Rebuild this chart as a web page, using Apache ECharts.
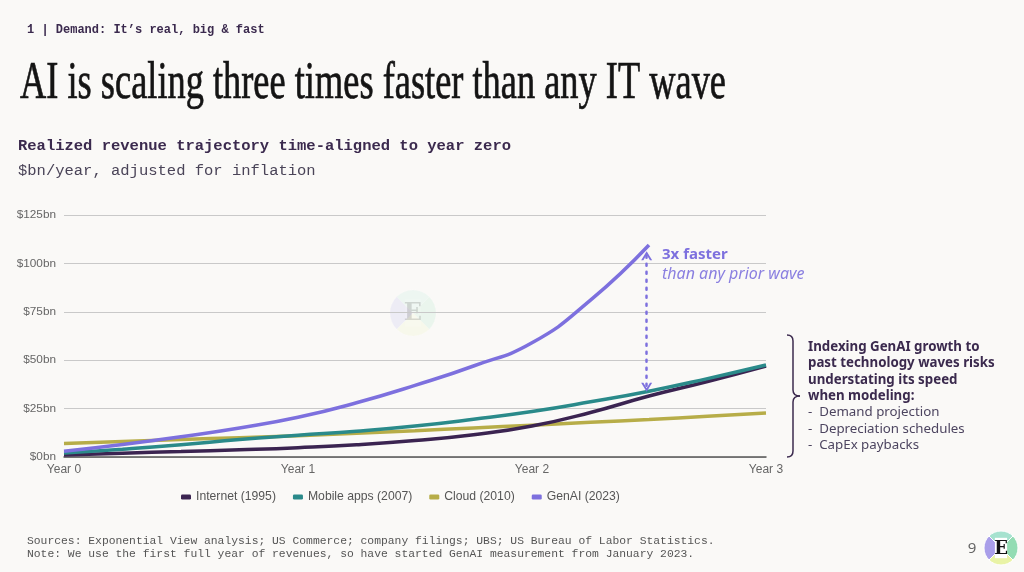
<!DOCTYPE html>
<html>
<head>
<meta charset="utf-8">
<script src="https://cdn.jsdelivr.net/npm/echarts@6/dist/echarts.min.js"></script>
<style>
  html, body { margin: 0; padding: 0; background: #faf9f7; }
  #chart { width: 1024px; height: 572px; }
</style>
</head>
<body>
<div id="chart"></div>
<script>
// time-aligned years (quarterly steps)
const years = [0, 0.25, 0.5, 0.75, 1, 1.25, 1.5, 1.75, 2, 2.25, 2.5, 2.75, 3];
const yearLabels = ['Year 0', 'Year 1', 'Year 2', 'Year 3'];

// $bn/year, adjusted for inflation
const internet = [1, 2, 2.8, 3.7, 4.8, 6.3, 8.5, 11.5, 16, 23, 31.5, 39, 47];
const mobile = [2, 4, 6.3, 9, 11.2, 13.3, 16, 19.5, 23.5, 28.5, 34, 40.5, 47.5];
const cloud = [7, 8, 9, 10, 11, 12.3, 13.6, 15, 16.4, 17.9, 19.4, 21, 22.7];
const genai = [3, 6.5, 10.5, 15, 20.5, 28, 37, 47, 59, 81, 109.5];

// the "3x" gap arrow, in data units
const gapYear = 2.49;
const gapTop = 104;
const gapBottom = 36;

const seriesNames = ['Internet (1995)', 'Mobile apps (2007)', 'Cloud (2010)', 'GenAI (2023)'];
const seriesColors = ['#3b2451', '#2a8a8a', '#b7ad48', '#7d70de'];

const ink = '#3b2a4e';
const chevron = 'path://M0,12 L6,0 L12,12 L9.6,12 L6,4.8 L2.4,12 Z';

function pairs(vals) {
    return vals.map((v, i) => [years[i], v]);
}

// squeeze the title so it fits like the condensed serif in the deck
function textWidth(text, font) {
    const c = document.createElement('canvas').getContext('2d');
    c.font = font;
    return c.measureText(text).width;
}
const titleText = 'AI is scaling three times faster than any IT wave';
const titleFont = '52px "Liberation Serif"';
const titleScale = 706 / textWidth(titleText, titleFont);

function logo(cx, cy, r, opacity) {
    const quads = [
        { s: Math.PI * 0.75, e: Math.PI * 1.25, c: '#a99ee9' },
        { s: Math.PI * 1.25, e: Math.PI * 1.75, c: '#a6e2cf' },
        { s: Math.PI * 1.75, e: Math.PI * 2.25, c: '#93dcb3' },
        { s: Math.PI * 0.25, e: Math.PI * 0.75, c: '#e9f3a6' }
    ];
    const parts = quads.map(q => ({
        type: 'sector',
        shape: { cx: cx, cy: cy, r: r, startAngle: q.s, endAngle: q.e },
        style: { fill: q.c, stroke: '#ffffff', lineWidth: 1, opacity: opacity },
        silent: true
    }));
    parts.push({
        type: 'rect',
        shape: { x: cx - r * 0.36, y: cy - r * 0.6, width: r * 0.72, height: r * 1.2 },
        style: { fill: '#ffffff', opacity: opacity },
        silent: true
    });
    parts.push({
        type: 'text',
        x: cx, y: cy + 1,
        style: {
            text: 'E', font: 'bold ' + Math.round(r * 1.05) + 'px "DejaVu Serif"',
            fill: '#111111', align: 'center', verticalAlign: 'middle', opacity: opacity
        },
        silent: true
    });
    return parts;
}

// curly brace "}" made of quadratic curves and lines
function brace(x, top, bottom, tipX) {
    const mid = (top + bottom) / 2;
    const st = { fill: 'none', stroke: ink, lineWidth: 1.5 };
    const r = 6;
    const q = (x1, y1, cx, cy, x2, y2) => ({
        type: 'bezierCurve', silent: true, style: st,
        shape: { x1: x1, y1: y1, cpx1: cx, cpy1: cy, x2: x2, y2: y2 }
    });
    const l = (x1, y1, x2, y2) => ({
        type: 'line', silent: true, style: st,
        shape: { x1: x1, y1: y1, x2: x2, y2: y2 }
    });
    return [
        q(x - r, top, x, top, x, top + r),
        l(x, top + r, x, mid - r),
        q(x, mid - r, x, mid, tipX, mid),
        q(tipX, mid, x, mid, x, mid + r),
        l(x, mid + r, x, bottom - r),
        q(x, bottom - r, x, bottom, x - r, bottom)
    ];
}

const chart = echarts.init(document.getElementById('chart'), null, { renderer: 'canvas' });

const option = {
    backgroundColor: '#faf9f7',
    animation: false,
    color: seriesColors,
    textStyle: { fontFamily: '"Liberation Sans", Arial, sans-serif' },
    grid: { left: 64, right: 258, top: 215, bottom: 115 },
    legend: {
        data: seriesNames,
        left: 176,
        top: 486,
        icon: 'roundRect',
        itemWidth: 10,
        itemHeight: 5,
        itemGap: 17,
        textStyle: { color: '#555555', fontSize: 12.2 }
    },
    xAxis: {
        type: 'value',
        min: 0,
        max: 3,
        interval: 1,
        axisLine: { show: true, lineStyle: { color: '#555555', width: 1.5 } },
        axisTick: { show: false },
        splitLine: { show: false },
        axisLabel: {
            color: '#666666',
            fontSize: 12,
            margin: 7,
            formatter: v => yearLabels[v]
        }
    },
    yAxis: {
        type: 'value',
        min: 0,
        max: 125,
        interval: 25,
        axisLine: { show: false },
        axisTick: { show: false },
        splitLine: { lineStyle: { color: '#c9c9c9', width: 1 } },
        axisLabel: {
            color: '#666666',
            fontSize: 11.8,
            margin: 8,
            formatter: '${value}bn'
        }
    },
    series: [
        {
            name: seriesNames[0], type: 'line', data: pairs(internet),
            smooth: 0.5, showSymbol: false, z: 3,
            lineStyle: { width: 3.5, color: seriesColors[0] }
        },
        {
            name: seriesNames[1], type: 'line', data: pairs(mobile),
            smooth: 0.5, showSymbol: false, z: 4,
            lineStyle: { width: 3.5, color: seriesColors[1] }
        },
        {
            name: seriesNames[2], type: 'line', data: pairs(cloud),
            smooth: 0.5, showSymbol: false, z: 2,
            lineStyle: { width: 3.5, color: seriesColors[2] }
        },
        {
            name: seriesNames[3], type: 'line', data: pairs(genai),
            smooth: 0.5, showSymbol: false, z: 5,
            lineStyle: { width: 3.5, color: seriesColors[3] },
            markLine: {
                silent: true,
                symbol: [chevron, chevron],
                symbolSize: [11, 9],
                label: { show: false },
                lineStyle: { color: seriesColors[3], width: 2.5, type: [2, 6], cap: 'round' },
                data: [[{ coord: [gapYear, gapTop] }, { coord: [gapYear, gapBottom] }]]
            }
        }
    ],
    graphic: [
        {
            type: 'text', x: 27, y: 30,
            style: { text: '1 | Demand: It\u2019s real, big & fast', font: 'bold 12px "Liberation Mono"', fill: ink, verticalAlign: 'middle' }
        },
        {
            type: 'text', x: 20, y: 58, scaleX: titleScale,
            style: { text: titleText, font: titleFont, fill: '#141414', stroke: '#141414', lineWidth: 0.7, verticalAlign: 'top' }
        },
        {
            type: 'text', x: 18, y: 146,
            style: { text: 'Realized revenue trajectory time-aligned to year zero', font: 'bold 15.5px "Liberation Mono"', fill: ink, verticalAlign: 'middle' }
        },
        {
            type: 'text', x: 18, y: 171,
            style: { text: '$bn/year, adjusted for inflation', font: '15.5px "Liberation Mono"', fill: '#4a4458', verticalAlign: 'middle' }
        },
        {
            type: 'text', x: 662, y: 255,
            style: { text: '3x faster', font: 'bold 15px "Noto Sans"', fill: '#7d70de', verticalAlign: 'middle' }
        },
        {
            type: 'text', x: 662, y: 274,
            style: { text: 'than any prior wave', font: 'italic 16px "Noto Sans"', fill: '#8a7fe0', verticalAlign: 'middle' }
        },
        {
            type: 'text', x: 808, y: 339,
            style: {
                text: 'Indexing GenAI growth to\npast technology waves risks\nunderstating its speed\nwhen modeling:',
                font: 'bold 13.3px "Noto Sans"', fill: ink, lineHeight: 16.4
            }
        },
        {
            type: 'text', x: 808, y: 404,
            style: {
                text: '-  Demand projection\n-  Depreciation schedules\n-  CapEx paybacks',
                font: '13.3px "Noto Sans"', fill: '#4d4560', lineHeight: 16.5
            }
        },
        {
            type: 'text', x: 27, y: 541,
            style: { text: 'Sources: Exponential View analysis; US Commerce; company filings; UBS; US Bureau of Labor Statistics.', font: '11.35px "Liberation Mono"', fill: '#555555', verticalAlign: 'middle' }
        },
        {
            type: 'text', x: 27, y: 554,
            style: { text: 'Note: We use the first full year of revenues, so have started GenAI measurement from January 2023.', font: '11.35px "Liberation Mono"', fill: '#555555', verticalAlign: 'middle' }
        },
        {
            type: 'text', x: 972, y: 549,
            style: { text: '9', font: '15px "Noto Sans"', fill: '#666666', align: 'center', verticalAlign: 'middle' }
        }
    ].concat(brace(793, 335, 457, 800), logo(1001, 548, 17, 1), logo(413, 313, 23, 0.15))
};

chart.setOption(option);
</script>
</body>
</html>
